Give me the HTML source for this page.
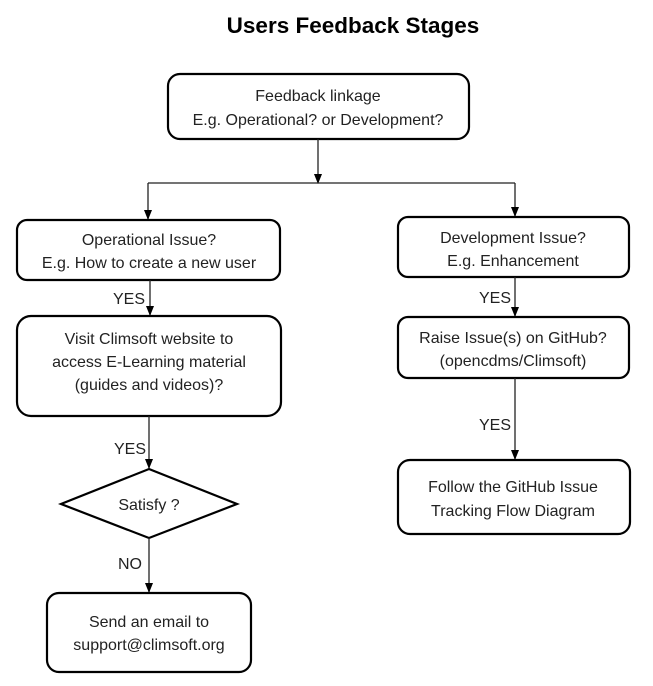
<!DOCTYPE html>
<html><head><style>
body{margin:0;background:#fff}
svg{display:block}
text{font-family:"Liberation Sans",sans-serif;fill:#222;text-anchor:middle}
.t{font-size:16px}
.b{fill:none;stroke:#000;stroke-width:2.2}
.l{stroke:#222;stroke-width:1.3;fill:none}
</style></head><body>
<svg width="653" height="686" viewBox="0 0 653 686">
<defs><marker id="a" markerWidth="10" markerHeight="8" refX="9" refY="4" orient="auto" markerUnits="userSpaceOnUse"><path d="M0,0 L10,4 L0,8z" fill="#000"/></marker></defs>
<text x="353" y="33" style="font-size:22.5px;font-weight:bold;fill:#000">Users Feedback Stages</text>
<rect class="b" x="168" y="74" width="301" height="65" rx="12"/>
<text class="t" x="318" y="101">Feedback linkage</text>
<text class="t" x="318" y="125">E.g. Operational? or Development?</text>
<path class="l" d="M318,139 V183" marker-end="url(#a)"/>
<path class="l" d="M148,183 H515"/>
<path class="l" d="M148,183 V219" marker-end="url(#a)"/>
<path class="l" d="M515,183 V216" marker-end="url(#a)"/>
<rect class="b" x="17" y="220" width="263" height="60" rx="10"/>
<text class="t" x="149" y="245">Operational  Issue?</text>
<text class="t" x="149" y="268">E.g. How to create a new user</text>
<path class="l" d="M150,280 V315" marker-end="url(#a)"/>
<text class="t" x="129" y="304">YES</text>
<rect class="b" x="17" y="316" width="264" height="100" rx="14"/>
<text class="t" x="149" y="344">Visit Climsoft website to</text>
<text class="t" x="149" y="367">access E-Learning  material</text>
<text class="t" x="149" y="390">(guides and videos)?</text>
<path class="l" d="M149,416 V468" marker-end="url(#a)"/>
<text class="t" x="130" y="454">YES</text>
<path class="b" d="M149,469 L237,504 L149,538 L61,504z"/>
<text class="t" x="149" y="510">Satisfy ?</text>
<path class="l" d="M149,538 V592" marker-end="url(#a)"/>
<text class="t" x="130" y="569">NO</text>
<rect class="b" x="47" y="593" width="204" height="79" rx="12"/>
<text class="t" x="149" y="627">Send an email to</text>
<text class="t" x="149" y="650">support@climsoft.org</text>
<rect class="b" x="398" y="217" width="231" height="60" rx="10"/>
<text class="t" x="513" y="243">Development Issue?</text>
<text class="t" x="513" y="266">E.g. Enhancement</text>
<path class="l" d="M515,277 V316" marker-end="url(#a)"/>
<text class="t" x="495" y="303">YES</text>
<rect class="b" x="398" y="317" width="231" height="61" rx="10"/>
<text class="t" x="513" y="343">Raise Issue(s) on GitHub?</text>
<text class="t" x="513" y="366">(opencdms/Climsoft)</text>
<path class="l" d="M515,378 V459" marker-end="url(#a)"/>
<text class="t" x="495" y="430">YES</text>
<rect class="b" x="398" y="460" width="232" height="74" rx="12"/>
<text class="t" x="513" y="492">Follow the GitHub Issue</text>
<text class="t" x="513" y="516">Tracking Flow Diagram</text>
</svg>
</body></html>
